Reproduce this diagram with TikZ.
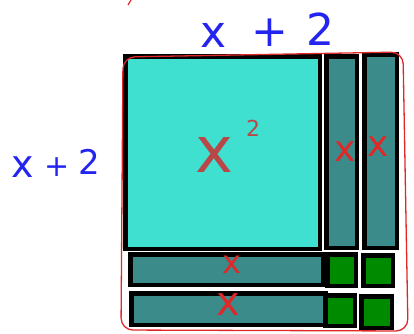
\documentclass[tikz,border=0pt]{standalone}
\usepackage{fontspec}
\setsansfont{DejaVu Sans}
\definecolor{sqcyan}{HTML}{40E0D0}
\definecolor{barteal}{HTML}{3B8B8A}
\definecolor{unitgreen}{HTML}{008A00}
\definecolor{penblue}{HTML}{2424F0}
\definecolor{penred}{HTML}{E02828}
\definecolor{penbrown}{HTML}{B84848}
\tikzset{
  tile/.style={draw=black, line width=4.5pt, inner sep=0pt, outer sep=0pt},
  sqtile/.style={tile, fill=sqcyan},
  bartile/.style={tile, fill=barteal},
  unittile/.style={tile, fill=unitgreen},
  bluelabel/.style={text=penblue, font=\fontsize{44}{44}\selectfont\sffamily, inner sep=0pt},
  leftlabel/.style={text=penblue, font=\fontsize{38}{38}\selectfont\sffamily, inner sep=0pt},
  redlabel/.style={text=penred, font=\fontsize{36}{36}\selectfont\sffamily, inner sep=0pt},
  outline/.style={draw=penred, line width=1.3pt, rounded corners=12pt}
}
\begin{document}
\begin{tikzpicture}[x=1pt, y=-1pt]
\useasboundingbox (0,0) rectangle (414,333);
% tiles
\node[sqtile, minimum width=194.5pt, minimum height=192.5pt] (sq) at (222.5,152.5) {};
\node[bartile, minimum width=30.5pt, minimum height=191.5pt] (v1) at (341.5,152) {};
\node[bartile, minimum width=32.5pt, minimum height=193.5pt] (v2) at (380.5,151) {};
\node[bartile, minimum width=192.5pt, minimum height=30.5pt] (h1) at (226.5,269.5) {};
\node[unittile, minimum width=28.5pt, minimum height=31.5pt] (g1) at (341.5,270) {};
\node[unittile, minimum width=29.5pt, minimum height=30.5pt] (g2) at (378,270.5) {};
\node[bartile, minimum width=194.5pt, minimum height=31.5pt] (h2) at (228.5,309) {};
\node[unittile, minimum width=29.5pt, minimum height=30.5pt] (g3) at (340,310.5) {};
\node[unittile, minimum width=30.5pt, minimum height=31.5pt] (g4) at (376.5,312) {};
% red outline
\draw[outline] (123,57) -- (403,52) -- (408,331) -- (121,330) -- cycle;
\coordinate (mk1) at (131,0);
\coordinate (mk2) at (128,5);
\draw[penred, line width=1.2pt] (mk1) -- (mk2);
% labels
\node[bluelabel] (topx) at (214,35) {x};
\node[bluelabel] (topplus) at (270,33) {+};
\node[bluelabel] (toptwo) at (320,29) {2};
\node[leftlabel] (lx) at (23,167) {x};
\node[leftlabel, font=\fontsize{30}{30}\selectfont\sffamily] (lplus) at (57,167) {+};
\node[leftlabel, font=\fontsize{34}{34}\selectfont\sffamily] (ltwo) at (89,162) {2};
\node[text=penbrown, font=\fontsize{64}{64}\selectfont\sffamily, inner sep=0pt] (xsq) at (214,155) {x};
\node[text=penbrown, font=\fontsize{22}{22}\selectfont\sffamily, inner sep=0pt] (xsqtwo) at (253,128) {2};
\node[redlabel] (lv1) at (345,152) {x};
\node[redlabel] (lv2) at (378,147) {x};
\node[redlabel, font=\fontsize{32}{32}\selectfont\sffamily] (lh1) at (232,265) {x};
\node[redlabel, font=\fontsize{40}{40}\selectfont\sffamily] (lh2) at (228,305) {x};
\end{tikzpicture}
\end{document}
